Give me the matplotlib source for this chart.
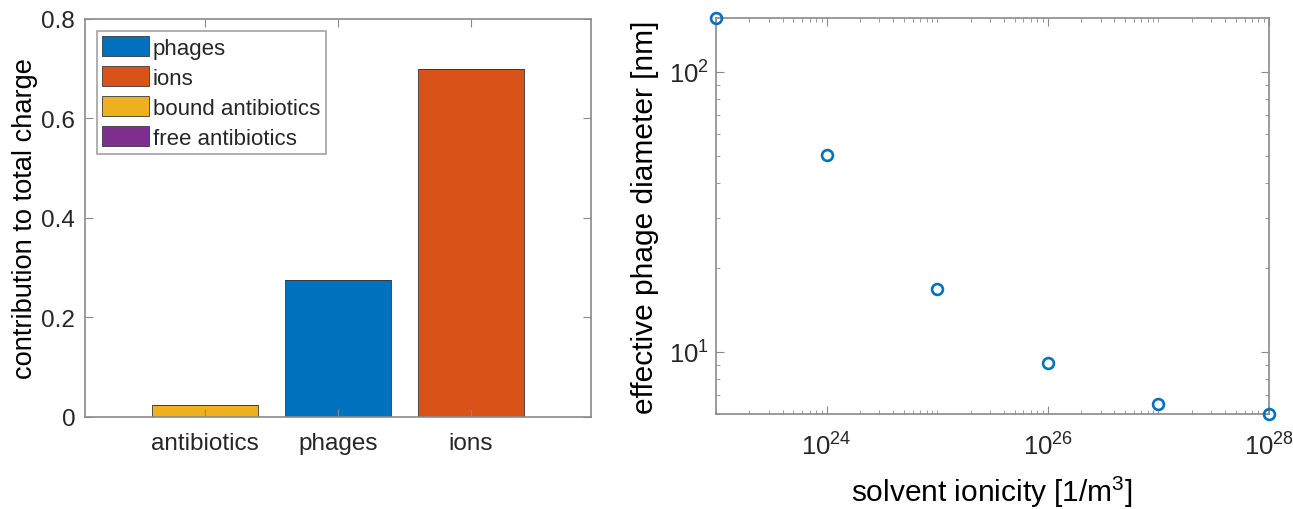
import numpy as np
import matplotlib
matplotlib.use('Agg')
import matplotlib.pyplot as plt
from matplotlib.ticker import LogLocator, FixedLocator, NullFormatter

# data
categories = ['antibiotics', 'phages', 'ions']
phages = [0.0, 0.2747, 0.0]
ions = [0.0, 0.0, 0.700]
bound_antibiotics = [0.0247, 0.0, 0.0]
free_antibiotics = [0.0, 0.0, 0.0]

ionicity = [1e23, 1e24, 1e25, 1e26, 1e27, 1e28]
diameter = [156.0, 50.6, 16.8, 9.09, 6.49, 5.99]

plt.rcParams['font.family'] = ['Liberation Sans', 'DejaVu Sans']
plt.rcParams['mathtext.fontset'] = 'custom'
plt.rcParams['mathtext.rm'] = 'Liberation Sans'
plt.rcParams['mathtext.it'] = 'Liberation Sans:italic'
plt.rcParams['text.color'] = '#262626'
plt.rcParams['xtick.color'] = '#262626'
plt.rcParams['ytick.color'] = '#262626'

frame = '#8a8a8a'

fig = plt.figure(figsize=(12.93, 5.10), dpi=100)
ax1 = fig.add_axes([0.0657, 0.1804, 0.3913, 0.7804])
ax2 = fig.add_axes([0.5538, 0.1863, 0.4277, 0.7765])

# left: stacked bars
x = np.arange(1, len(categories) + 1)
series = [(phages, '#0072BD', 'phages'),
          (ions, '#D95319', 'ions'),
          (bound_antibiotics, '#EDB120', 'bound antibiotics'),
          (free_antibiotics, '#7E2F8E', 'free antibiotics')]
bottom = np.zeros(len(categories))
for vals, col, lab in series:
    ax1.bar(x, vals, width=0.8, bottom=bottom, color=col, edgecolor='#3a3a3a',
            linewidth=0.6, label=lab)
    bottom += np.array(vals)

ax1.set_xlim(0.1, 3.9)
ax1.set_ylim(0, 0.8)
ax1.set_xticks(x)
ax1.set_xticklabels(categories)
ax1.set_yticks([0, 0.2, 0.4, 0.6, 0.8])
ax1.set_yticklabels(['0', '0.2', '0.4', '0.6', '0.8'])
ax1.set_ylabel('contribution to total charge', fontsize=19.6, va='center')
ax1.yaxis.set_label_coords(-0.1186, 0.5)
leg = ax1.legend(loc='upper left', bbox_to_anchor=(0.0237, 0.97), borderaxespad=0,
                 fontsize=16, frameon=True, fancybox=False, handlelength=2.1,
                 handleheight=1.0, handletextpad=0.16, labelspacing=0.33,
                 borderpad=0.25)
leg.get_frame().set_edgecolor(frame)
leg.get_frame().set_linewidth(1.2)

# right: log-log scatter
ax2.plot(ionicity, diameter, 'o', markerfacecolor='none', markeredgecolor='#0072BD',
         markeredgewidth=1.9, markersize=7.8, clip_on=False, zorder=5)
ax2.set_xscale('log')
ax2.set_yscale('log')
ax2.set_xlim(1e23, 1e28)
ax2.set_ylim(5.99, 156)
ax2.xaxis.set_major_locator(FixedLocator([1e24, 1e26, 1e28]))
ax2.xaxis.set_minor_locator(LogLocator(base=10, subs=np.arange(1, 10), numticks=50))
ax2.xaxis.set_minor_formatter(NullFormatter())
ax2.yaxis.set_major_locator(FixedLocator([10, 100]))
ax2.yaxis.set_minor_locator(LogLocator(base=10, subs=np.arange(2, 10), numticks=50))
ax2.yaxis.set_minor_formatter(NullFormatter())
ax2.set_xlabel('solvent ionicity [1/m$^3$]', fontsize=21.5, va='baseline')
ax2.xaxis.set_label_coords(0.499, -0.2197)
ax2.set_ylabel('effective phage diameter [nm]', fontsize=21.5, va='center')
ax2.yaxis.set_label_coords(-0.128, 0.5)

for ax in (ax1, ax2):
    for s in ax.spines.values():
        s.set_color(frame)
        s.set_linewidth(1.2)
    ax.tick_params(which='both', direction='in', top=True, right=True, color=frame)
    ax.tick_params(which='major', length=6)
    ax.tick_params(which='minor', length=3)

ax1.tick_params(axis='both', labelsize=17.5)
ax1.tick_params(axis='x', pad=11)
ax1.tick_params(axis='y', pad=7)
ax2.tick_params(axis='both', labelsize=18.5)
ax2.tick_params(axis='x', pad=13)
ax2.tick_params(axis='y', pad=5)

plt.savefig('out.png', dpi=100)
